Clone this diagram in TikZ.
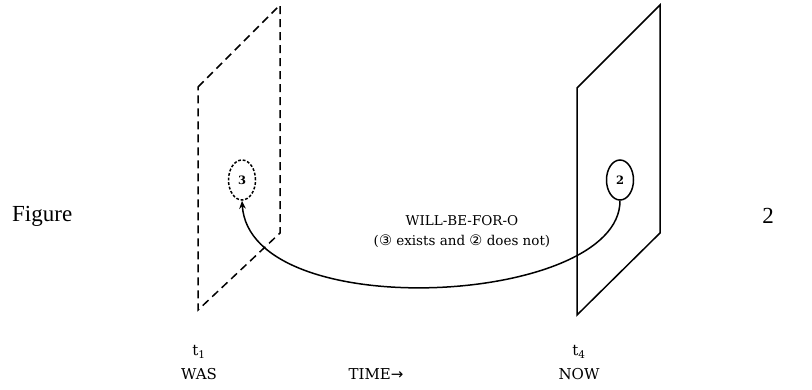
\documentclass[tikz,border=0pt]{standalone}
\usepackage{fontspec}
\setmainfont{DejaVu Serif}
\newfontfamily\timesf{Liberation Serif}
\newfontfamily\symf{DejaVu Sans}
\usetikzlibrary{arrows.meta,shapes.geometric}
\newcommand{\circd}[1]{{\symf\fontsize{14.5}{14.5}\selectfont #1}}
\begin{document}
\begin{tikzpicture}[x=1pt,y=-1pt,
  plane/.style={line width=1.5pt},
  dplane/.style={plane, dash pattern=on 8pt off 5pt},
  bubble/.style={ellipse, draw, line width=1.5pt, minimum width=27pt, minimum height=40pt, inner sep=0pt, font=\fontsize{11.5}{12}\selectfont\bfseries},
  lbl/.style={font=\fontsize{13.5}{15}\selectfont, inner sep=0pt},
  axis/.style={font=\fontsize{15}{17}\selectfont, inner sep=0pt},
  fig/.style={font=\timesf\fontsize{23}{25}\selectfont, inner sep=0pt}]
\useasboundingbox (0,0) rectangle (812,389);
% planes
\draw[dplane] (198,87) -- (280,5) -- (280,233) -- (198,310) -- cycle;
\draw[plane] (577,88) -- (660,5) -- (660,233) -- (577,315) -- cycle;
% bubbles
\node[bubble, dash pattern=on 2.8pt off 1.8pt] (e3) at (242,180) {3};
\node[bubble] (e2) at (620,180) {2};
% connector
\draw[line width=1.5pt, -{Stealth[length=8pt,width=6.5pt]}] (e2.south) .. controls +(0,105) and +(8,125) .. (e3.south);
% labels
\node[lbl] (rel) at (462,221) {WILL-BE-FOR-O};
\node[lbl] (cond) at (462,241) {(\circd{③} exists and \circd{②} does not)};
\node[fig, anchor=west] (figw) at (12,216) {Figure};
\node[fig] (fign) at (768,216) {2};
\node[axis] (t1) at (199,352) {t\textsubscript{1}};
\node[axis] (was) at (199,374) {WAS};
\node[axis] (time) at (376,374) {TIME{\symf →}};
\node[axis] (t4) at (579,352) {t\textsubscript{4}};
\node[axis] (now) at (579,374) {NOW};
\end{tikzpicture}
\end{document}
